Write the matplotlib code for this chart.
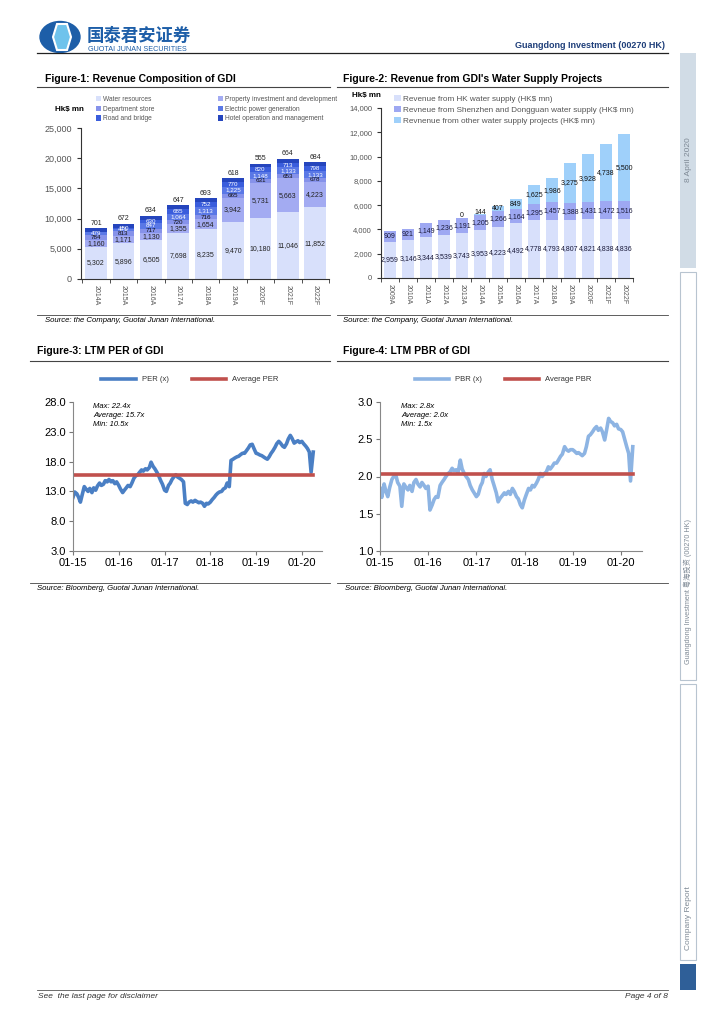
import matplotlib
matplotlib.use("Agg")
import matplotlib.pyplot as plt
import matplotlib.dates as mdates
from matplotlib.patches import Rectangle, Ellipse, Polygon
from matplotlib.lines import Line2D
import numpy as np
import pandas as pd

plt.rcParams['font.family'] = ['Liberation Sans', 'Noto Sans CJK SC', 'DejaVu Sans']

# ---- Figure-1 data: revenue composition (HK$ mn)
years1 = ['2014A', '2015A', '2016A', '2017A', '2018A', '2019A', '2020F', '2021F', '2022F']
water = [5302, 5896, 6505, 7698, 8235, 9470, 10180, 11046, 11852]
prop = [1160, 1171, 1130, 1355, 1654, 3942, 5731, 5663, 4223]
dept = [784, 813, 717, 720, 716, 665, 631, 653, 678]
power = [479, 471, 847, 1064, 1313, 1225, 1148, 1133, 1133]
road = [0, 150, 630, 685, 752, 770, 820, 713, 798]
hotel = [701, 672, 634, 647, 693, 618, 555, 664, 684]

# ---- Figure-2 data: water supply revenue (HK$ mn)
years2 = ['2009A', '2010A', '2011A', '2012A', '2013A', '2014A', '2015A', '2016A',
          '2017A', '2018A', '2019A', '2020F', '2021F', '2022F']
hk_water = [2959, 3146, 3344, 3539, 3743, 3953, 4223, 4492, 4778, 4793, 4807, 4821, 4838, 4836]
sz_water = [909, 921, 1149, 1236, 1191, 1205, 1266, 1164, 1295, 1457, 1388, 1431, 1472, 1516]
other_water = [0, 0, 0, 0, 0, 144, 407, 849, 1625, 1986, 3275, 3928, 4738, 5500]

# ---- Figure-3/4 data: LTM PER and PBR, semi-monthly readings from 01-2015
per = [12.0, 12.9, 12.6, 12.0, 11.2, 12.4, 13.8, 13.4, 13.0, 13.5, 12.8, 13.6,
       13.2, 13.9, 14.4, 14.0, 14.2, 14.8, 14.6, 15.0, 14.6, 14.8, 14.3, 14.6,
       14.0, 13.4, 12.8, 13.2, 13.6, 14.0, 13.8, 14.4, 15.2, 15.6, 15.8, 16.2,
       16.6, 16.4, 16.8, 16.6, 17.0, 17.9, 17.2, 16.8, 16.2, 15.6, 14.8, 14.2,
       13.2, 13.0, 14.0, 14.4, 15.0, 15.4, 15.8, 15.4, 15.2, 15.0, 14.6, 11.0,
       10.8, 11.2, 11.4, 11.2, 11.5, 11.3, 11.1, 11.2, 11.0, 10.5, 11.0, 10.9,
       11.2, 11.6, 12.0, 12.4, 12.7, 12.9, 13.0, 13.4, 13.6, 14.4, 13.8, 18.2,
       18.4, 18.6, 18.8, 18.9, 19.2, 19.4, 19.4, 19.8, 20.3, 20.8, 20.9, 20.2,
       19.4, 19.3, 19.1, 19.0, 18.8, 18.6, 18.4, 18.8, 19.4, 19.8, 20.4, 21.0,
       21.4, 21.1, 20.6, 20.4, 21.0, 21.8, 22.4, 21.9, 21.1, 21.3, 21.5, 21.2,
       21.4, 21.0, 20.6, 20.2, 19.6, 16.2, 19.6]
pbr = [1.84, 1.72, 1.90, 1.80, 1.73, 1.85, 1.96, 2.00, 2.02, 1.92, 1.87, 1.60,
       1.90, 1.86, 1.82, 1.88, 1.80, 1.92, 1.96, 1.90, 1.86, 1.92, 1.88, 1.84,
       1.87, 1.55, 1.62, 1.69, 1.73, 1.72, 1.88, 1.92, 1.96, 2.00, 2.04, 2.06,
       2.11, 2.08, 2.09, 2.05, 2.22, 2.10, 2.04, 2.00, 1.96, 1.88, 1.82, 1.78,
       1.73, 1.76, 1.87, 1.92, 2.04, 2.00, 2.06, 2.09, 1.96, 1.88, 1.78, 1.66,
       1.71, 1.74, 1.78, 1.76, 1.80, 1.76, 1.84, 1.80, 1.73, 1.70, 1.62, 1.58,
       1.69, 1.76, 1.84, 1.82, 1.88, 1.86, 1.91, 1.96, 2.04, 2.00, 2.04, 2.06,
       2.13, 2.10, 2.14, 2.18, 2.18, 2.22, 2.27, 2.30, 2.40, 2.36, 2.34, 2.36,
       2.36, 2.34, 2.31, 2.32, 2.30, 2.28, 2.31, 2.40, 2.54, 2.56, 2.60, 2.64,
       2.67, 2.62, 2.65, 2.60, 2.49, 2.62, 2.78, 2.74, 2.72, 2.68, 2.70, 2.64,
       2.63, 2.60, 2.49, 2.40, 2.31, 1.94, 2.40]
avg_per = 15.7
avg_pbr = 2.04
dates = pd.date_range('2015-01-01', periods=len(per), freq='SMS')

W, H = 724, 1024
fig = plt.figure(figsize=(W / 100, H / 100), dpi=100)


def axpx(x0, y0, x1, y1):
    return fig.add_axes([x0 / W, 1 - y1 / H, (x1 - x0) / W, (y1 - y0) / H])


def txt(x, y, s, **kw):
    return fig.text(x / W, 1 - y / H, s, **kw)


def hline(x0, x1, y, color='#444444', lw=0.8):
    fig.add_artist(Line2D([x0 / W, x1 / W], [1 - y / H, 1 - y / H],
                          transform=fig.transFigure, color=color, lw=lw))


def rect(x0, y0, x1, y1, **kw):
    fig.add_artist(Rectangle((x0 / W, 1 - y1 / H), (x1 - x0) / W, (y1 - y0) / H,
                             transform=fig.transFigure, **kw))


# ---- page header
fig.add_artist(Ellipse((60 / W, 1 - 37 / H), 40 / W, 31 / H, transform=fig.transFigure,
                       color='#1d5ea8'))
fig.add_artist(Polygon([(57 / W, 1 - 24 / H), (67 / W, 1 - 24 / H), (71 / W, 1 - 37 / H),
                        (67 / W, 1 - 50 / H), (57 / W, 1 - 50 / H), (53 / W, 1 - 37 / H)],
                       closed=True, transform=fig.transFigure, facecolor='#6fc3ec',
                       edgecolor='white', lw=1.5))
txt(87, 41, '国泰君安证券', family=['Noto Sans CJK SC', 'DejaVu Sans'], fontsize=12.5,
    fontweight='bold', color='#1d5ea8', va='baseline')
txt(88, 49.5, 'GUOTAI JUNAN SECURITIES', fontsize=5.2, color='#1d5ea8', va='center')
txt(665, 46, 'Guangdong Investment (00270 HK)', fontsize=6.5, fontweight='bold',
    color='#1f3f7a', ha='right', va='center')
hline(37, 668, 53, color='#222222', lw=0.9)

# ---- right side bar
rect(680, 53, 696, 268, facecolor='#d1dce6', edgecolor='none')
txt(688, 160, '8 April 2020', rotation=90, fontsize=6, color='#7f8a96', ha='center', va='center')
rect(680, 272, 696, 680, facecolor='white', edgecolor='#b8c4d0', lw=0.8)
txt(688, 592, 'Guangdong Investment 粤海投资 (00270 HK)', rotation=90, fontsize=5.2,
    color='#7f8a96', ha='center', va='center')
rect(680, 684, 696, 960, facecolor='white', edgecolor='#b8c4d0', lw=0.8)
txt(688, 918, 'Company Report', rotation=90, fontsize=6, color='#7f8a96', ha='center', va='center')
rect(680, 964, 696, 990, facecolor='#2f5f98', edgecolor='none')

# ---- footer
hline(37, 668, 990, color='#555555', lw=0.6)
txt(38, 997, 'See  the last page for disclaimer', fontsize=6, style='italic', color='#333333', va='center')
txt(668, 997, 'Page 4 of 8', fontsize=6, style='italic', color='#333333', ha='right', va='center')

# ---- titles and source lines
txt(45, 79, 'Figure-1: Revenue Composition of GDI', fontsize=7.5, fontweight='bold', va='center')
hline(37, 330, 87)
txt(343, 79, "Figure-2: Revenue from GDI's Water Supply Projects", fontsize=7.5, fontweight='bold', va='center')
hline(337, 668, 87)
hline(37, 330, 315, lw=0.6)
hline(337, 668, 315, lw=0.6)
txt(45, 321, 'Source: the Company, Guotai Junan International.', fontsize=5.6, style='italic', va='center')
txt(343, 321, 'Source: the Company, Guotai Junan International.', fontsize=5.6, style='italic', va='center')

txt(37, 351, 'Figure-3: LTM PER of GDI', fontsize=7.5, fontweight='bold', va='center')
hline(30, 330, 361)
txt(343, 351, 'Figure-4: LTM PBR of GDI', fontsize=7.5, fontweight='bold', va='center')
hline(337, 668, 361)
hline(30, 330, 583, lw=0.6)
hline(337, 668, 583, lw=0.6)
txt(37, 589, 'Source: Bloomberg, Guotai Junan International.', fontsize=5.6, style='italic', va='center')
txt(345, 589, 'Source: Bloomberg, Guotai Junan International.', fontsize=5.6, style='italic', va='center')

# ---- Figure-1: stacked bars
ax1 = axpx(81, 128, 329, 279)
series1 = [
    ('Water resources', water, '#d8e0fb', '#222222', 5.0),
    ('Property investment and development', prop, '#a3abf2', '#222222', 5.0),
    ('Department store', dept, '#8692ea', '#111111', 4.5),
    ('Electric power generation', power, '#5a78e6', 'white', 4.5),
    ('Road and bridge', road, '#3a5ddc', 'white', 4.5),
    ('Hotel operation and management', hotel, '#2545bd', '#222222', 5.0),
]
x1 = np.arange(len(years1))
bottom = np.zeros(len(years1))
handles = {}
for name, vals, col, tcol, fs in series1:
    vals = np.array(vals, dtype=float)
    b = ax1.bar(x1, vals, bottom=bottom, width=0.8, color=col, label=name)
    handles[name] = b
    for i, v in enumerate(vals):
        if v <= 0:
            continue
        if name.startswith('Hotel'):
            ax1.text(i, bottom[i] + v + 250, f'{int(v):,}', ha='center', va='bottom',
                     fontsize=fs, color=tcol)
        else:
            ax1.text(i, bottom[i] + v / 2, f'{int(v):,}', ha='center', va='center',
                     fontsize=fs, color=tcol)
    bottom += vals
ax1.set_ylim(0, 25000)
ax1.set_xlim(-0.55, 8.4)
ax1.set_yticks(range(0, 25001, 5000))
ax1.set_yticklabels([f'{v:,}' for v in range(0, 25001, 5000)])
ax1.set_xticks(x1)
ax1.set_xticklabels(years1, rotation=-90)
ax1.set_xticks(np.arange(-0.5, 9, 1), minor=True)
ax1.tick_params(axis='x', which='major', length=0, labelsize=5, colors='#555555', pad=4)
ax1.tick_params(axis='x', which='minor', length=3, color='#333333')
ax1.tick_params(axis='y', labelsize=6.5, colors='#555555', length=3)
ax1.tick_params(axis='y', color='#333333')
for s in ['top', 'right']:
    ax1.spines[s].set_visible(False)
for s in ['left', 'bottom']:
    ax1.spines[s].set_color('#333333')
order = ['Water resources', 'Department store', 'Road and bridge',
         'Property investment and development', 'Electric power generation',
         'Hotel operation and management']
ax1.legend([handles[n] for n in order], order, ncol=2, loc='lower left',
           bbox_to_anchor=(0.05, 1.02), frameon=False, fontsize=4.8, handlelength=0.8,
           handleheight=0.8, handletextpad=0.3, columnspacing=9.5, labelspacing=0.4,
           borderaxespad=0, labelcolor='#555555')
txt(55, 109, 'Hk$ mn', fontsize=5.8, fontweight='bold', va='center')

# ---- Figure-2: stacked bars
ax2 = axpx(381, 108, 633, 278)
x2 = np.arange(len(years2))
hk = np.array(hk_water, dtype=float)
sz = np.array(sz_water, dtype=float)
ot = np.array(other_water, dtype=float)
b1 = ax2.bar(x2, hk, width=0.72, color='#d8e0fb',
             label='Revenue from HK water supply (HK$ mn)')
b2 = ax2.bar(x2, sz, bottom=hk, width=0.72, color='#9ea8f2',
             label='Revneue from Shenzhen and Dongguan water supply (HK$ mn)')
b3 = ax2.bar(x2, ot, bottom=hk + sz, width=0.72, color='#9fd0fa',
             label='Revnenue from other water supply projects (HK$ mn)')
for i in x2:
    ax2.text(i, hk[i] / 2, f'{int(hk[i]):,}', ha='center', va='center', fontsize=5, color='#1a1a3a')
    ax2.text(i, hk[i] + sz[i] / 2, f'{int(sz[i]):,}', ha='center', va='center', fontsize=5, color='#1a1a3a')
    if i >= 4:
        ypos = hk[i] + sz[i] + max(ot[i] / 2, 250)
        ax2.text(i, ypos, f'{int(ot[i]):,}', ha='center', va='center', fontsize=5, color='#111111')
ax2.set_ylim(0, 14000)
ax2.set_xlim(-0.5, 13.45)
ax2.set_yticks(range(0, 14001, 2000))
ax2.set_yticklabels([f'{v:,}' for v in range(0, 14001, 2000)])
ax2.set_xticks(x2)
ax2.set_xticklabels(years2, rotation=-90)
ax2.set_xticks(np.arange(-0.5, 14, 1), minor=True)
ax2.tick_params(axis='x', which='major', length=0, labelsize=5, colors='#555555', pad=4)
ax2.tick_params(axis='x', which='minor', length=3, color='#333333')
ax2.tick_params(axis='y', labelsize=5.5, colors='#555555', length=3, color='#333333')
for s in ['top', 'right']:
    ax2.spines[s].set_visible(False)
for s in ['left', 'bottom']:
    ax2.spines[s].set_color('#333333')
ax2.legend(loc='upper left', bbox_to_anchor=(0.04, 1.095), frameon=False, fontsize=5.9,
           handlelength=0.8, handleheight=0.8, handletextpad=0.3, labelspacing=0.35,
           borderaxespad=0, labelcolor='#555555')
txt(352, 96, 'Hk$ mn', fontsize=5.8, fontweight='bold', va='center')

# ---- Figure-3 / Figure-4: valuation lines
xmin, xmax = pd.Timestamp('2015-01-01'), pd.Timestamp('2020-06-10')


def val_chart(ax, vals, avg, col, lab, avglab, ylim, ystep, notes):
    ax.plot(dates, vals, color=col, lw=2.6, label=lab, solid_joinstyle='round')
    ax.plot([dates[0], dates[-1]], [avg, avg], color='#c0504d', lw=2.6, label=avglab)
    ax.set_xlim(xmin, xmax)
    ax.set_ylim(*ylim)
    ax.set_yticks(np.arange(ylim[0], ylim[1] + ystep / 2, ystep))
    ax.yaxis.set_major_formatter(plt.FormatStrFormatter('%.1f'))
    ax.xaxis.set_major_locator(mdates.YearLocator())
    ax.xaxis.set_major_formatter(mdates.DateFormatter('%m-%y'))
    ax.tick_params(labelsize=8, length=3, color='#777777', pad=2)
    for s in ['top', 'right']:
        ax.spines[s].set_visible(False)
    for s in ['left', 'bottom']:
        ax.spines[s].set_color('#888888')
    ax.legend(ncol=2, loc='lower center', bbox_to_anchor=(0.47, 1.08), frameon=False,
              fontsize=5.5, handlelength=4.5, columnspacing=3, labelcolor='#333333')
    ax.text(0.08, 0.995, notes, transform=ax.transAxes, fontsize=5.5, style='italic',
            va='top', linespacing=1.4)


ax3 = axpx(73, 402, 322, 551)
val_chart(ax3, per, avg_per, '#4a7fc4', 'PER (x)', 'Average PER', (3, 28), 5,
          'Max: 22.4x\nAverage: 15.7x\nMin: 10.5x')
ax4 = axpx(380, 402, 642, 551)
val_chart(ax4, pbr, avg_pbr, '#8db4e3', 'PBR (x)', 'Average PBR', (1, 3), 0.5,
          'Max: 2.8x\nAverage: 2.0x\nMin: 1.5x')

fig.savefig('out.png', dpi=100)
